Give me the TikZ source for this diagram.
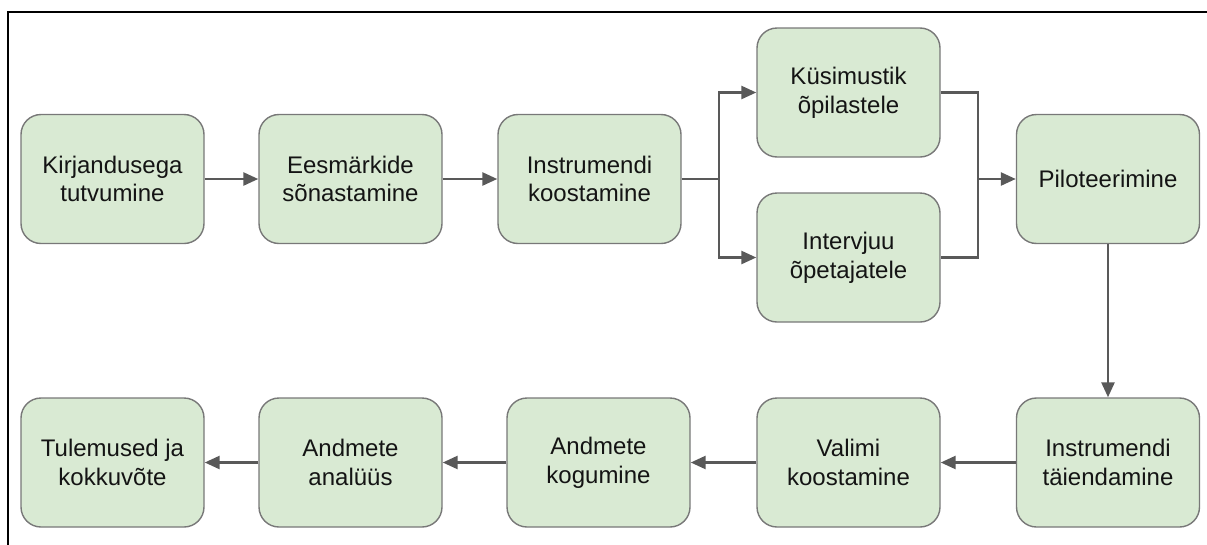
\documentclass[tikz,border=0pt]{standalone}
\usepackage{fontspec}
\setmainfont{Liberation Sans}
\usetikzlibrary{arrows.meta}
\definecolor{boxfill}{RGB}{217,234,211}
\definecolor{boxline}{RGB}{120,120,120}
\definecolor{arrowcol}{RGB}{89,89,89}
\definecolor{txtcol}{RGB}{20,20,20}
\tikzset{
  stepbox/.style={draw=boxline, fill=boxfill, line width=1.4pt, rounded corners=20pt,
    minimum width=183pt, minimum height=129pt, align=center, text=txtcol,
    font=\fontsize{24}{28.8}\selectfont, inner sep=0pt},
  flow/.style={draw=arrowcol, line width=2.6pt, -{Triangle[length=15pt,width=13pt]}},
  flowplain/.style={draw=arrowcol, line width=2.6pt}
}
\begin{document}
\begin{tikzpicture}[x=1pt,y=-1pt]
\useasboundingbox (0,0) rectangle (1207,544);
\draw[line width=2pt] (1208,12) -- (8,12) -- (8,545);
% row 1
\node[stepbox] (K) at (112.5,179) {Kirjandusega\\tutvumine};
\node[stepbox] (E) at (350.5,179) {Eesmärkide\\sõnastamine};
\node[stepbox] (I) at (589.5,179) {Instrumendi\\koostamine};
\node[stepbox] (Q) at (848.5,92.5) {Küsimustik\\õpilastele};
\node[stepbox] (V) at (848.5,257.5) {Intervjuu\\õpetajatele};
\node[stepbox] (P) at (1108,179) {Piloteerimine};
% row 2
\node[stepbox] (IT) at (1108,462.5) {Instrumendi\\täiendamine};
\node[stepbox] (VK) at (848.5,462.5) {Valimi\\koostamine};
\node[stepbox] (AK) at (598.5,462.5) {Andmete\\kogumine};
\node[stepbox] (AA) at (350.5,462.5) {Andmete\\analüüs};
\node[stepbox] (TK) at (112.5,462.5) {Tulemused ja\\kokkuvõte};
% junctions
\coordinate (j1) at (719,179);
\coordinate (j2) at (978,179);
% connectors
\draw[flow] (K) -- (E);
\draw[flow] (E) -- (I);
\draw[flowplain] (I.east) -- (j1);
\draw[flow] (j1) |- (Q.west);
\draw[flow] (j1) |- (V.west);
\draw[flowplain] (Q.east) -| (j2) |- (V.east);
\draw[flow] (j2) -- (P.west);
\draw[flow] (P) -- (IT);
\draw[flow] (IT) -- (VK);
\draw[flow] (VK) -- (AK);
\draw[flow] (AK) -- (AA);
\draw[flow] (AA) -- (TK);
\end{tikzpicture}
\end{document}
